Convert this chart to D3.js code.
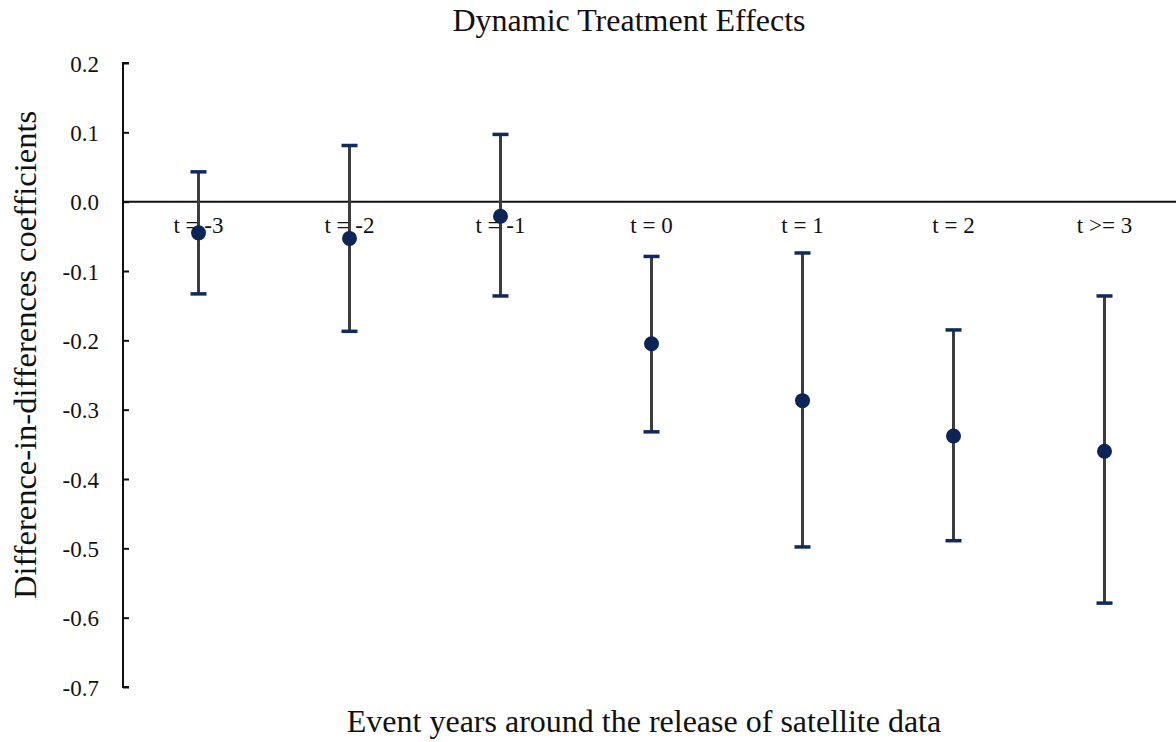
<!DOCTYPE html>
<html><head><meta charset="utf-8">
<script src="https://cdn.jsdelivr.net/npm/d3@7"></script>
<style>body{margin:0;background:#fff;} svg{display:block;} text{font-family:'Liberation Serif','Times New Roman',serif;}</style>
</head><body>
<svg id="c" width="1176" height="742"></svg>
<script>
const categories = ["t = -3","t = -2","t = -1","t = 0","t = 1","t = 2","t >= 3"];
const coef  = [-0.045,-0.053,-0.021,-0.205,-0.287,-0.338,-0.360];
const upper = [0.043,0.081,0.097,-0.079,-0.074,-0.185,-0.136];
const lower = [-0.133,-0.187,-0.136,-0.332,-0.498,-0.489,-0.579];
const yTicks = [0.2,0.1,0.0,-0.1,-0.2,-0.3,-0.4,-0.5,-0.6,-0.7];

const svg = d3.select("#c");
const font = "'Liberation Serif','Times New Roman',serif";
const x = d3.scaleBand().domain(categories).range([123,1180]);
const y = d3.scaleLinear().domain([-0.7,0.2]).range([687,63]);

// title
svg.append("text").attr("x",629).attr("y",31).attr("text-anchor","middle")
  .style("font-family",font).attr("font-size",32).attr("fill","#111").text("Dynamic Treatment Effects");

// y axis
const fmt = d => d3.format(".1f")(d).replace("\u2212","-");
const ya = svg.append("g").attr("transform","translate(123,0)")
  .call(d3.axisRight(y).tickValues(yTicks).tickSize(6).tickFormat(fmt));
ya.attr("font-family",null).attr("font-size",null);
ya.select(".domain").attr("stroke","#111").attr("stroke-width",2).attr("d","M6,63H0V687H6");
ya.selectAll(".tick line").attr("stroke","#111").attr("stroke-width",2);
ya.selectAll(".tick text").attr("x",-24).attr("dy","0.35em").attr("text-anchor","end").style("font-family",font)
  .attr("font-size",23).attr("fill","#111");

// zero line
svg.append("line").attr("x1",123).attr("x2",1176).attr("y1",y(0)).attr("y2",y(0))
  .attr("stroke","#111").attr("stroke-width",2);

// category labels
svg.append("g").selectAll("text").data(categories).join("text")
  .attr("x",d=>x(d)+x.bandwidth()/2).attr("y",y(0)+31).attr("text-anchor","middle")
  .style("font-family",font).attr("font-size",23).attr("fill","#111").text(d=>d);

// error bars
const g = svg.append("g");
const cx = i => x(categories[i]) + x.bandwidth()/2;
g.selectAll("line.stem").data(categories).join("line").attr("class","stem")
  .attr("x1",(d,i)=>cx(i)).attr("x2",(d,i)=>cx(i))
  .attr("y1",(d,i)=>y(upper[i])).attr("y2",(d,i)=>y(lower[i]))
  .attr("stroke","#3c3c3c").attr("stroke-width",3);
g.selectAll("line.capu").data(categories).join("line").attr("class","capu")
  .attr("x1",(d,i)=>cx(i)-8).attr("x2",(d,i)=>cx(i)+8)
  .attr("y1",(d,i)=>y(upper[i])).attr("y2",(d,i)=>y(upper[i]))
  .attr("stroke","#0f2a5e").attr("stroke-width",3.5);
g.selectAll("line.capl").data(categories).join("line").attr("class","capl")
  .attr("x1",(d,i)=>cx(i)-8).attr("x2",(d,i)=>cx(i)+8)
  .attr("y1",(d,i)=>y(lower[i])).attr("y2",(d,i)=>y(lower[i]))
  .attr("stroke","#0f2a5e").attr("stroke-width",3.5);
g.selectAll("circle").data(coef).join("circle")
  .attr("cx",(d,i)=>cx(i)).attr("cy",d=>y(d)).attr("r",7.5).attr("fill","#0c2559");

// axis titles
svg.append("text").attr("x",644).attr("y",732).attr("text-anchor","middle")
  .style("font-family",font).attr("font-size",32).attr("fill","#111")
  .text("Event years around the release of satellite data");
svg.append("text").attr("transform","translate(36,355) rotate(-90)").attr("text-anchor","middle")
  .style("font-family",font).attr("font-size",32.5).attr("fill","#111")
  .text("Difference-in-differences coefficients");
</script>
</body></html>
